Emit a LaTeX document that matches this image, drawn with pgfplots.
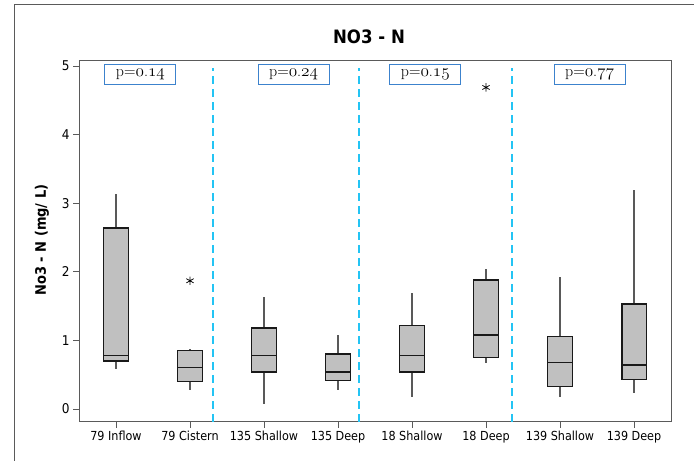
\documentclass[border=0pt]{standalone}
\usepackage{fontspec}
\setsansfont{DejaVu Sans Condensed}
\usepackage{pgfplots}
\pgfplotsset{compat=1.18}
\usepgfplotslibrary{statistics}
\definecolor{boxgray}{RGB}{192,192,192}
\definecolor{cyanline}{RGB}{35,196,244}
\definecolor{pblue}{RGB}{60,130,205}
\definecolor{framegray}{RGB}{90,90,90}
\newcommand{\osn}[1]{{\usefont{OML}{cmm}{m}{it}#1}}
\tikzset{pbox/.style={draw=pblue, line width=0.9bp, fill=white, minimum width=71bp, minimum height=20.5bp, inner sep=0pt, font=\rmfamily\fontsize{16}{16}\selectfont}}
\begin{document}
\begin{tikzpicture}[x=1bp,y=1bp]
\useasboundingbox (0,0) rectangle (694,461);
\draw[framegray, line width=0.9bp] (14.5,0) -- (14.5,457) -- (694,457);
\node[font=\sffamily\bfseries\fontsize{18.5}{18.5}\selectfont] at (369,424) {NO3 - N};
\node[font=\sffamily\bfseries\fontsize{14.5}{14.5}\selectfont, rotate=90] at (42,221) {No3 - N (mg/ L)};
\begin{axis}[
  at={(79bp,39.3bp)}, anchor=south west,
  scale only axis, width=592bp, height=361bp,
  xmin=0.5, xmax=8.5, ymin=-0.185, ymax=5.08,
  xtick={1,2,3,4,5,6,7,8},
  xticklabels={79 Inflow, 79 Cistern, 135 Shallow, 135 Deep, 18 Shallow, 18 Deep, 139 Shallow, 139 Deep},
  ytick={0,1,2,3,4,5},
  tick align=outside, tick pos=left,
  major tick length=6bp,
  axis line style={framegray, line width=1bp},
  every tick/.style={framegray, line width=0.9bp},
  xticklabel style={font=\sffamily\fontsize{12.5}{12.5}\selectfont, text=black},
  yticklabel style={font=\sffamily\fontsize{13.5}{13.5}\selectfont, text=black},
  /pgf/number format/assume math mode=true,
  clip=false,
  boxplot/draw direction=y,
  boxplot/whisker extend=0,
  boxplot/box extend=0.33,
  boxplot/every box/.style={draw=black!90, fill=boxgray, line width=1.4bp},
  boxplot/every whisker/.style={draw=black!65, line width=1.3bp},
  boxplot/every median/.style={draw=black!90, line width=1.3bp},
]
\addplot[cyanline, line width=2.5bp, dash pattern=on 8bp off 5bp] coordinates {(2.31,-0.185) (2.31,4.98)};
\addplot[cyanline, line width=2.5bp, dash pattern=on 8bp off 5bp] coordinates {(4.285,-0.185) (4.285,4.98)};
\addplot[cyanline, line width=2.5bp, dash pattern=on 8bp off 5bp] coordinates {(6.35,-0.185) (6.35,4.98)};

\addplot[boxplot prepared={draw position=1, lower whisker=0.59, lower quartile=0.70, median=0.78, upper quartile=2.64, upper whisker=3.14}] coordinates {};
\addplot[boxplot prepared={draw position=2, lower whisker=0.28, lower quartile=0.40, median=0.61, upper quartile=0.85, upper whisker=0.88}] coordinates {};
\addplot[boxplot prepared={draw position=3, lower whisker=0.08, lower quartile=0.54, median=0.78, upper quartile=1.18, upper whisker=1.64}] coordinates {};
\addplot[boxplot prepared={draw position=4, lower whisker=0.28, lower quartile=0.42, median=0.54, upper quartile=0.80, upper whisker=1.08}] coordinates {};
\addplot[boxplot prepared={draw position=5, lower whisker=0.18, lower quartile=0.54, median=0.78, upper quartile=1.22, upper whisker=1.69}] coordinates {};
\addplot[boxplot prepared={draw position=6, lower whisker=0.67, lower quartile=0.75, median=1.08, upper quartile=1.88, upper whisker=2.04}] coordinates {};
\addplot[boxplot prepared={draw position=7, lower whisker=0.18, lower quartile=0.33, median=0.68, upper quartile=1.06, upper whisker=1.93}] coordinates {};
\addplot[boxplot prepared={draw position=8, lower whisker=0.24, lower quartile=0.43, median=0.64, upper quartile=1.53, upper whisker=3.19}] coordinates {};

\addplot[only marks, mark=asterisk, mark size=4.2bp, black, line width=0.75bp] coordinates {(2,1.87) (6,4.69)};

\node[pbox] at (axis cs:1.33,4.88) {p=\osn{0}.\osn{14}};
\node[pbox] at (axis cs:3.40,4.88) {p=\osn{0}.\osn{24}};
\node[pbox] at (axis cs:5.18,4.88) {p=\osn{0}.\osn{15}};
\node[pbox] at (axis cs:7.40,4.88) {p=\osn{0}.\osn{77}};
\end{axis}
\end{tikzpicture}
\end{document}
